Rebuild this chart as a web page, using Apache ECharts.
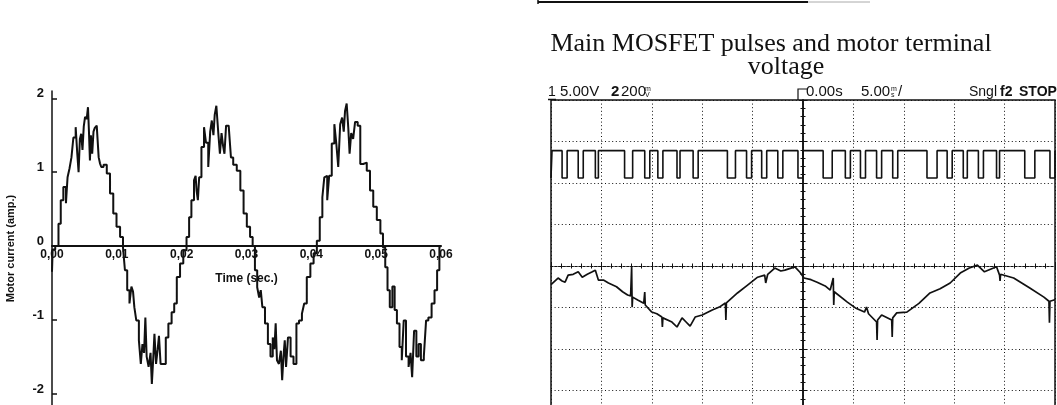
<!DOCTYPE html>
<html>
<head>
<meta charset="utf-8">
<script src="https://cdn.jsdelivr.net/npm/echarts@6/dist/echarts.min.js"></script>
<style>
html,body{margin:0;padding:0;background:#fff;}
#c{width:1057px;height:405px;}
</style>
</head>
<body>
<div id="c"></div>
<script>
// ---------- Left chart: motor current (amp.) vs time (sec.) ----------
const currentTime = [
0.0000,0.0002,0.0008,0.0012,0.0015,0.0020,0.0023,0.0025,0.0029,0.0031,0.0035,0.0038,0.0040,0.0042,0.0044,0.0046,0.0048,0.0050,0.0052,0.0055,0.0056,0.0058,0.0059,0.0061,0.0063,0.0065,0.0067,0.0071,0.0073,0.0075,0.0077,0.0082,0.0087,0.0092,0.0097,0.0102,0.0108,0.0111,0.0114,0.0118,0.0121,0.0124,0.0126,0.0128,0.0132,0.0136,0.0138,0.0141,0.0143,0.0145,0.0147,0.0151,0.0153,0.0155,0.0157,0.0159,0.0162,0.0164,0.0166,0.0169,0.0174,0.0177,0.0182,0.0187,0.0190,0.0195,0.0200,0.0205,
0.0210,0.0213,0.0217,0.0221,0.0222,0.0224,0.0226,0.0228,0.0233,0.0236,0.0239,0.0243,0.0245,0.0248,0.0250,0.0252,0.0255,0.0258,0.0260,0.0263,0.0265,0.0267,0.0270,0.0275,0.0277,0.0282,0.0288,0.0293,0.0298,0.0303,0.0308,0.0311,0.0315,0.0318,0.0321,0.0323,0.0326,0.0331,0.0335,0.0339,0.0342,0.0344,0.0346,0.0348,0.0352,0.0354,0.0356,0.0358,0.0360,0.0362,0.0366,0.0370,0.0375,0.0379,0.0383,0.0388,0.0390,0.0396,0.0401,0.0406,
0.0411,0.0415,0.0419,0.0421,0.0423,0.0426,0.0429,0.0434,0.0437,0.0440,0.0443,0.0446,0.0449,0.0451,0.0453,0.0456,0.0458,0.0460,0.0463,0.0466,0.0469,0.0474,0.0477,0.0483,0.0488,0.0493,0.0498,0.0504,0.0509,0.0512,0.0516,0.0519,0.0523,0.0527,0.0530,0.0534,0.0538,0.0541,0.0544,0.0548,0.0552,0.0554,0.0557,0.0560,0.0564,0.0567,0.0571,0.0576,0.0578,0.0583,0.0588,0.0592,0.0596,0.0599,0.0600
];
const currentValue = [
-0.35,-0.05,0.00,0.30,0.62,0.80,0.58,0.93,1.05,1.20,1.47,1.61,1.25,1.00,1.45,1.52,1.30,1.62,1.75,1.72,1.88,1.55,1.16,1.50,1.25,1.55,1.60,1.63,1.20,1.12,1.07,1.10,0.98,0.71,0.44,0.26,0.12,-0.02,-0.33,-0.60,-0.78,-0.55,-0.62,-0.83,-1.01,-1.28,-1.60,-1.33,-1.45,-0.97,-1.50,-1.64,-1.45,-1.87,-1.55,-1.19,-1.60,-1.40,-1.22,-1.60,-1.60,-1.24,-1.05,-0.90,-0.78,-0.42,-0.24,-0.06,
0.12,0.39,0.62,0.89,0.95,0.75,0.62,0.93,1.34,1.61,1.40,1.07,1.55,1.70,1.50,1.78,1.90,1.53,1.25,1.53,1.35,1.25,1.63,1.61,1.20,1.10,1.02,0.75,0.44,0.26,0.12,0.00,-0.33,-0.56,-0.70,-0.60,-0.83,-1.05,-1.33,-1.50,-1.24,-1.40,-1.05,-1.55,-1.60,-1.42,-1.82,-1.50,-1.28,-1.64,-1.24,-1.50,-1.60,-1.05,-1.01,-0.92,-0.78,-0.42,-0.24,-0.10,
0.07,0.39,0.66,0.93,0.95,0.62,0.95,1.39,1.65,1.39,1.07,1.65,1.74,1.55,1.83,1.93,1.60,1.25,1.53,1.45,1.68,1.63,1.11,1.13,1.02,0.75,0.53,0.35,0.17,-0.02,-0.29,-0.60,-0.83,-0.55,-0.87,-1.05,-1.37,-1.55,-1.01,-1.50,-1.64,-1.45,-1.78,-1.15,-1.50,-1.33,-1.55,-1.50,-1.01,-0.97,-0.78,-0.60,-0.33,-0.02,0.00
];
const currentTicks = [-2, -1, 0, 1, 2];

// ---------- Right chart: oscilloscope (time in ms, amplitude in divisions from centre) ----------
const pulseHigh = 2.78;
const pulseLow = 2.12;
const pulseStart = [-23.9,-22.3,-20.6,-17.7,-15.7,-14.4,-12.5,-10.9,-7.5,-5.6,-4.1,-2.5,-0.5,2.0,4.2,5.7,7.3,8.9,12.3,14.3,15.9,17.4,19.2,22.0,24.5];
const pulseEnd   = [-23.4,-21.8,-20.3,-16.9,-15.2,-13.9,-12.2,-10.4,-6.7,-5.1,-3.6,-2.0,0.0,2.9,4.7,6.2,7.8,9.4,13.3,14.8,16.3,17.9,19.5,23.0,25.0];

const voltTime = [
-25.0,-24.9,-24.3,-23.9,-23.6,-23.3,-22.8,-22.3,-21.9,-21.4,-20.9,-20.6,-20.3,-19.8,-19.3,-18.5,-17.9,-17.4,-17.1,-17.0,-16.95,-16.9,-16.4,-15.8,-15.7,-15.65,-15.0,-14.5,-14.0,-13.95,-13.9,-13.0,-12.5,-12.0,-11.6,-11.2,-10.7,-10.0,-9.0,-8.3,-7.7,-7.65,-7.6,-6.5,-5.5,-4.5,-3.8,-3.7,-3.5,-2.8,-2.2,-1.8,-0.8,-0.3,
0.1,0.8,1.4,2.2,2.7,3.0,3.05,3.1,4.4,5.2,6.1,6.3,6.5,7.3,7.35,7.4,7.8,8.8,8.85,8.9,9.3,10.3,11.5,12.6,13.6,14.6,15.6,16.5,17.3,18.0,19.2,19.5,19.55,19.6,20.9,22.5,23.9,24.4,24.45,24.5,24.9,25.0
];
const voltValue = [
-0.45,-0.41,-0.29,-0.36,-0.39,-0.22,-0.20,-0.14,-0.27,-0.20,-0.14,-0.10,-0.34,-0.34,-0.41,-0.50,-0.62,-0.70,-0.72,-0.02,-0.99,-0.75,-0.82,-0.90,-0.63,-0.94,-1.11,-1.15,-1.23,-1.47,-1.25,-1.35,-1.47,-1.25,-1.35,-1.45,-1.23,-1.18,-1.06,-0.99,-0.89,-1.30,-0.89,-0.65,-0.46,-0.27,-0.22,-0.41,-0.20,-0.05,-0.12,-0.10,-0.02,-0.15,
-0.29,-0.33,-0.39,-0.48,-0.58,-0.29,-0.94,-0.62,-0.87,-1.01,-1.11,-0.99,-1.15,-1.35,-1.78,-1.30,-1.18,-1.30,-1.71,-1.25,-1.13,-1.11,-0.90,-0.65,-0.55,-0.41,-0.17,-0.05,0.02,-0.14,-0.02,-0.22,-0.36,-0.20,-0.29,-0.53,-0.75,-0.85,-1.37,-0.85,-0.82,-0.80
];

// ---------- build series data ----------
const currentData = currentTime.map((t, i) => [t, currentValue[i]]);
const pulseData = [[-25, pulseLow], [-24.9, pulseHigh]];
pulseStart.forEach((s, i) => {
  pulseData.push([s, pulseHigh], [s, pulseLow], [pulseEnd[i], pulseLow], [pulseEnd[i], pulseHigh]);
});
const voltData = voltTime.map((t, i) => [t, voltValue[i]]);

const INK = '#111';
const chart = echarts.init(document.getElementById('c'), null, {renderer: 'canvas'});

const scopeTickX = {show: true, length: 4, lineStyle: {color: INK, width: 1}};
const scopeMinor = {show: true, splitNumber: 5, length: 2.5, lineStyle: {color: INK, width: 1}};

chart.setOption({
  animation: false,
  backgroundColor: '#fff',
  grid: [
    {left: 52, right: 616, top: 91, bottom: -1, outerBoundsMode: 'none', containLabel: false},
    {left: 551, right: 2, top: 100, bottom: -27, outerBoundsMode: 'none', containLabel: false,
     show: true, borderColor: INK, borderWidth: 1.5, backgroundColor: 'transparent'}
  ],
  xAxis: [
    {
      gridIndex: 0, type: 'value', min: 0, max: 0.06, interval: 0.01, position: 'bottom', offset: -160,
      axisLine: {show: true, onZero: false, lineStyle: {color: INK, width: 2}},
      axisTick: {show: false}, splitLine: {show: false},
      axisLabel: {
        margin: 3, color: INK, fontFamily: 'Liberation Sans', fontWeight: 'bold', fontSize: 12,
        formatter: v => v.toFixed(2).replace('.', ',')
      },
      name: 'Time (sec.)', nameLocation: 'middle', nameGap: 27,
      nameTextStyle: {color: INK, fontFamily: 'Liberation Sans', fontWeight: 'bold', fontSize: 12}
    },
    {
      gridIndex: 1, type: 'value', min: -25, max: 25, interval: 5,
      axisLine: {show: true, onZero: true, lineStyle: {color: INK, width: 1, type: [2, 2]}},
      axisTick: scopeTickX, minorTick: scopeMinor,
      axisLabel: {show: false},
      splitLine: {show: true, lineStyle: {color: INK, width: 1, type: [1, 2.6]}}
    },
    {
      gridIndex: 1, type: 'value', position: 'top', min: -25, max: 25, interval: 5,
      axisLine: {show: true, onZero: true, lineStyle: {color: INK, width: 1, type: [2, 2]}},
      axisTick: scopeTickX, minorTick: scopeMinor,
      axisLabel: {show: false}, splitLine: {show: false}
    }
  ],
  yAxis: [
    {
      gridIndex: 0, type: 'value', min: -2.17, max: 2.1,
      axisLine: {show: true, onZero: false, lineStyle: {color: INK, width: 1.5}},
      axisTick: {show: true, inside: true, length: 5, customValues: currentTicks, lineStyle: {color: INK, width: 1.5}},
      axisLabel: {
        customValues: currentTicks, margin: 8, color: INK, fontFamily: 'Liberation Sans', fontWeight: 'bold', fontSize: 13,
        verticalAlign: 'bottom', lineHeight: 9, formatter: v => String(v)
      },
      splitLine: {show: false},
      name: 'Motor current (amp.)', nameLocation: 'middle', nameGap: 36, nameRotate: 90,
      nameTextStyle: {color: INK, fontFamily: 'Liberation Sans', fontWeight: 'bold', fontSize: 11}
    },
    {
      gridIndex: 1, type: 'value', min: -4, max: 4, interval: 1,
      axisLine: {show: true, onZero: true, lineStyle: {color: INK, width: 1.5}},
      axisTick: scopeTickX, minorTick: scopeMinor,
      axisLabel: {show: false},
      splitLine: {show: true, lineStyle: {color: INK, width: 1, type: [1, 2.6]}}
    },
    {
      gridIndex: 1, type: 'value', position: 'right', min: -4, max: 4, interval: 1,
      axisLine: {show: true, onZero: true, lineStyle: {color: INK, width: 1.5}},
      axisTick: scopeTickX, minorTick: scopeMinor,
      axisLabel: {show: false}, splitLine: {show: false}
    }
  ],
  series: [
    {
      name: 'Motor current', type: 'line', xAxisIndex: 0, yAxisIndex: 0, data: currentData,
      showSymbol: false, step: 'middle', lineStyle: {color: INK, width: 2}, z: 5
    },
    {
      name: 'MOSFET pulses', type: 'line', xAxisIndex: 1, yAxisIndex: 1, data: pulseData,
      showSymbol: false, lineStyle: {color: INK, width: 1.6}, z: 5
    },
    {
      name: 'Motor terminal voltage', type: 'line', xAxisIndex: 1, yAxisIndex: 1, data: voltData,
      showSymbol: false, lineStyle: {color: INK, width: 1.7}, z: 5
    }
  ],
  graphic: [
    // scan artefact: bottom edge of a box at the very top
    {type: 'line', shape: {x1: 538, y1: 2, x2: 808, y2: 2}, style: {stroke: INK, lineWidth: 2}},
    {type: 'line', shape: {x1: 808, y1: 2, x2: 870, y2: 2}, style: {stroke: '#aaa', lineWidth: 1}},
    {type: 'line', shape: {x1: 538, y1: 0, x2: 538, y2: 4}, style: {stroke: INK, lineWidth: 1.5}},
    // title
    {type: 'text', x: 771, y: 44, style: {text: 'Main MOSFET pulses and motor terminal', fill: INK, font: '26px "Liberation Serif"', textAlign: 'center', verticalAlign: 'middle'}},
    {type: 'text', x: 786, y: 67, style: {text: 'voltage', fill: INK, font: '26px "Liberation Serif"', textAlign: 'center', verticalAlign: 'middle'}},
    // scope header
    {type: 'text', x: 548, y: 99, style: {text: '1', fill: INK, font: '14px "Liberation Sans"', verticalAlign: 'bottom'}},
    {type: 'line', shape: {x1: 548, y1: 99.5, x2: 556, y2: 99.5}, style: {stroke: INK, lineWidth: 1.5}},
    {type: 'text', x: 560, y: 99, style: {text: '5.00V', fill: INK, font: '15px "Liberation Sans"', verticalAlign: 'bottom'}},
    {type: 'text', x: 611, y: 99, style: {text: '2', fill: INK, font: 'bold 15px "Liberation Sans"', verticalAlign: 'bottom'}},
    {type: 'text', x: 621, y: 99, style: {text: '200', fill: INK, font: '15px "Liberation Sans"', verticalAlign: 'bottom'}},
    {type: 'text', x: 645, y: 93, style: {text: 'm', fill: INK, font: '7px "Liberation Sans"', verticalAlign: 'bottom'}},
    {type: 'text', x: 645, y: 99, style: {text: 'V', fill: INK, font: '7px "Liberation Sans"', verticalAlign: 'bottom'}},
    {type: 'polyline', shape: {points: [[798, 100], [798, 89], [807, 89]]}, style: {stroke: INK, lineWidth: 1.2, fill: null}},
    {type: 'text', x: 806, y: 99, style: {text: '0.00s', fill: INK, font: '15px "Liberation Sans"', verticalAlign: 'bottom'}},
    {type: 'text', x: 861, y: 99, style: {text: '5.00', fill: INK, font: '15px "Liberation Sans"', verticalAlign: 'bottom'}},
    {type: 'text', x: 891, y: 93, style: {text: 'm', fill: INK, font: '7px "Liberation Sans"', verticalAlign: 'bottom'}},
    {type: 'text', x: 891, y: 99, style: {text: 's', fill: INK, font: '7px "Liberation Sans"', verticalAlign: 'bottom'}},
    {type: 'text', x: 898, y: 99, style: {text: '/', fill: INK, font: '15px "Liberation Sans"', verticalAlign: 'bottom'}},
    {type: 'text', x: 969, y: 99, style: {text: 'Sngl', fill: INK, font: '14px "Liberation Sans"', verticalAlign: 'bottom'}},
    {type: 'text', x: 1000, y: 99, style: {text: 'f2', fill: INK, font: 'bold 14px "Liberation Sans"', verticalAlign: 'bottom'}},
    {type: 'text', x: 1019, y: 99, style: {text: 'STOP', fill: INK, font: 'bold 14px "Liberation Sans"', verticalAlign: 'bottom'}}
  ]
});
</script>
</body>
</html>
